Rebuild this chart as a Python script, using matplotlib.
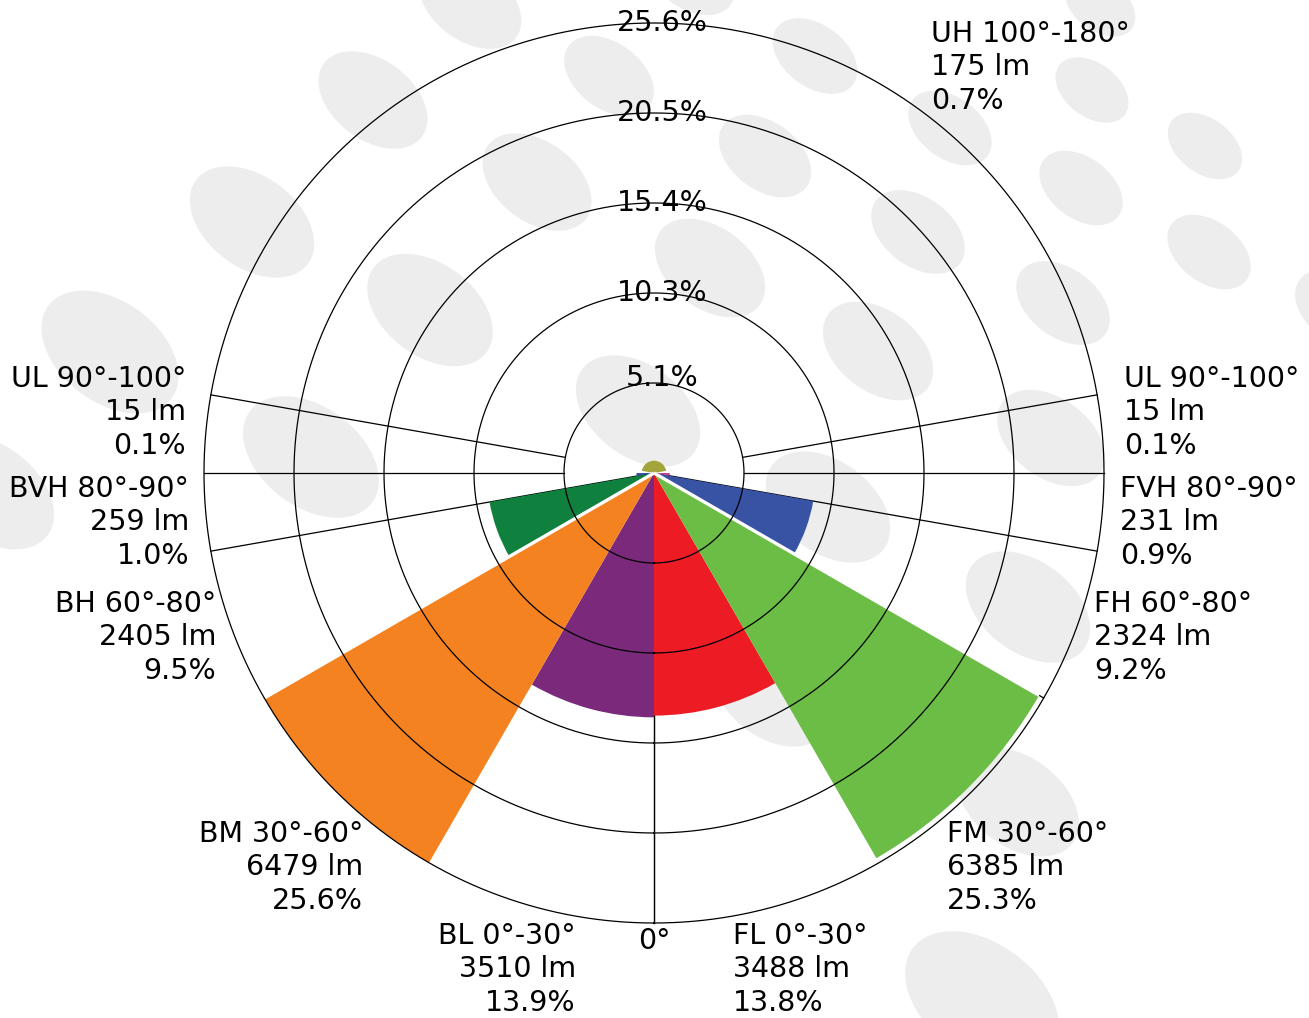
import numpy as np
import matplotlib
matplotlib.use("Agg")
import matplotlib.pyplot as plt
from matplotlib.patches import Ellipse

# ---------------- data ----------------
front_zones = ["FL", "FM", "FH", "FVH", "UL"]
front_ranges = [(0, 30), (30, 60), (60, 80), (80, 90), (90, 100)]
front_lumens = [3488, 6385, 2324, 231, 15]
front_pcts = [13.8, 25.3, 9.2, 0.9, 0.1]

back_zones = ["BL", "BM", "BH", "BVH", "UL"]
back_ranges = [(0, 30), (30, 60), (60, 80), (80, 90), (90, 100)]
back_lumens = [3510, 6479, 2405, 259, 15]
back_pcts = [13.9, 25.6, 9.5, 1.0, 0.1]

up_zone = "UH"
up_range = (100, 180)
up_lumens = 175
up_pct = 0.7

ring_labels = ["5.1%", "10.3%", "15.4%", "20.5%", "25.6%"]

# ---------------- styles / layout ----------------
front_colors = ["#ED1C24", "#6BBD45", "#3953A4", "#C2469A", "#D86AA8"]
back_colors = ["#7B297B", "#F58220", "#10803E", "#3953A4", "#D86AA8"]
up_color = "#A3A43C"

W, H = 1309, 1018
CX, CY, R = 654, 473, 450
FS = 20.5

fig = plt.figure(figsize=(W / 100, H / 100), dpi=100)
fig.patch.set_facecolor("white")

# background decorative ellipses
bg = fig.add_axes([0, 0, 1, 1], zorder=0)
bg.set_xlim(0, W)
bg.set_ylim(H, 0)
bg.axis("off")
blobs = [(470, 3, .8), (690, -25, .7), (609, 76, .7), (373, 100, .85), (537, 182, .85),
         (252, 222, .97), (430, 310, .98), (710, 268, .86), (110, 352, 1.07),
         (311, 457, 1.06), (638, 411, .97), (-10, 492, 1.0), (815, 56, .66),
         (1100, 5, .55), (765, 156, .72), (950, 128, .65), (1092, 90, .57),
         (918, 232, .73), (1081, 188, .65), (1205, 146, .58), (878, 351, .86),
         (1063, 303, .73), (1209, 252, .65), (1340, 310, .7), (828, 507, .97),
         (1051, 438, .84), (1028, 607, .97), (771, 695, .9), (1018, 802, .95),
         (982, 1000, 1.2)]
for bx, by, s in blobs:
    bg.add_patch(Ellipse((bx, by), 144 * s, 94 * s, angle=37,
                         facecolor="#EDEDED", edgecolor="none"))

# polar chart
rmax = max(max(front_pcts), max(back_pcts))
ax = fig.add_axes([(CX - R) / W, (H - CY - R) / H, 2 * R / W, 2 * R / H],
                  projection="polar", zorder=1)
ax.set_theta_zero_location("S")
ax.set_theta_direction(1)
ax.set_ylim(0, rmax)
ax.patch.set_alpha(0)
ax.axis("off")

rad = np.deg2rad
# wedges
for (a0, a1), p, c in zip(front_ranges, front_pcts, front_colors):
    ax.bar(rad((a0 + a1) / 2), p, width=rad(a1 - a0), bottom=0, color=c,
           edgecolor="none", linewidth=0, zorder=2)
for (a0, a1), p, c in zip(back_ranges, back_pcts, back_colors):
    ax.bar(-rad((a0 + a1) / 2), p, width=rad(a1 - a0), bottom=0, color=c,
           edgecolor="none", linewidth=0, zorder=2)
ax.bar(rad(180), up_pct, width=rad(2 * (180 - up_range[0])), bottom=0,
       color=up_color, edgecolor="none", linewidth=0, zorder=2)

# white separators on the 60 deg edge of the medium zones
for sign, p in [(1, front_pcts[1]), (-1, back_pcts[1])]:
    ax.plot([sign * rad(60)] * 2, [0, p], color="white", lw=2.4, zorder=2.5,
            solid_capstyle="butt")

ring_vals = [rmax * (k + 1) / len(ring_labels) for k in range(len(ring_labels))]

# radial lines
for a in [0, 60, 80]:
    for sign in (1, -1):
        ax.plot([sign * rad(a)] * 2, [0, rmax], color="black", lw=0.9,
                zorder=1, clip_on=False)
for a in [90, 100]:
    for sign in (1, -1):
        ax.plot([sign * rad(a)] * 2, [ring_vals[0], rmax], color="black",
                lw=0.9, zorder=1, clip_on=False)

# rings
th = np.linspace(0, 2 * np.pi, 1441)
for rv in ring_vals:
    ax.plot(th, np.full_like(th, rv), color="black", lw=0.9, zorder=3,
            clip_on=False)

# ---------------- text ----------------
tx = fig.add_axes([0, 0, 1, 1], zorder=3)
tx.set_xlim(0, W)
tx.set_ylim(H, 0)
tx.axis("off")
tx.patch.set_alpha(0)

for k, (rv, lab) in enumerate(zip(ring_vals, ring_labels)):
    ypix = CY - rv / rmax * R - (5 if k == 0 else 0)
    tx.text(662, ypix, lab, ha="center", va="center", fontsize=FS)

offs = [0, 33, 67]


def block(x, y, lines, ha):
    for o, s in zip(offs, lines):
        tx.text(x, y + o, s, ha=ha, va="center", fontsize=FS)


front_anchor = [(733, 936), (947, 834), (1094, 604), (1120, 489), (1124, 379)]
back_anchor = [(576, 936), (363, 834), (216, 604), (189, 489), (186, 379)]

for z, (a0, a1), lm, p, (x, y) in zip(front_zones, front_ranges, front_lumens,
                                       front_pcts, front_anchor):
    block(x, y, [f"{z} {a0}°-{a1}°", f"{lm} lm", f"{p:.1f}%"], "left")
for z, (a0, a1), lm, p, (x, y) in zip(back_zones, back_ranges, back_lumens,
                                       back_pcts, back_anchor):
    block(x, y, [f"{z} {a0}°-{a1}°", f"{lm} lm", f"{p:.1f}%"], "right")
block(931, 34, [f"{up_zone} {up_range[0]}°-{up_range[1]}°", f"{up_lumens} lm",
                f"{up_pct:.1f}%"], "left")

tx.text(654, 941, "0°", ha="center", va="center", fontsize=FS)

fig.savefig("out.png", dpi=100, facecolor="white")
